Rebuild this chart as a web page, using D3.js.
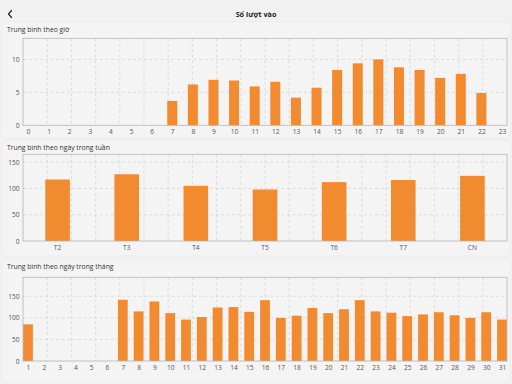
<!DOCTYPE html>
<html><head><meta charset="utf-8">
<script src="https://cdn.jsdelivr.net/npm/d3@7"></script>
<style>
html,body{margin:0;padding:0;background:#f1f1f1;}
svg{display:block;font-family:"Open Sans",sans-serif;}
</style></head>
<body>
<svg id="c" width="512" height="384"></svg>
<script>
const hourLabels = d3.range(0,24).map(String);
const hourValues = [0,0,0,0,0,0,0,3.7,6.2,6.9,6.8,5.9,6.6,4.2,5.7,8.4,9.4,10.0,8.8,8.4,7.2,7.8,4.9,0];
const weekLabels = ["T2","T3","T4","T5","T6","T7","CN"];
const weekValues = [117,127,105,98,112,116,124];
const monthLabels = d3.range(1,32).map(String);
const monthValues = [85,0,0,0,0,0,142,115,138,111,96,102,124,125,114,141,100,105,123,111,120,141,115,112,104,108,113,106,100,113,96];
const hourTicks = [0,5,10];
const weekTicks = [0,50,100,150];
const monthTicks = [0,50,100,150];

const svg = d3.select("#c");
const barColor = "#f28a30";
const textColor = "#555";

// cards
[[2,22,508,116],[2,140,508,116],[2,259,508,123]].forEach(r=>{
  svg.append("rect").attr("x",r[0]).attr("y",r[1]).attr("width",r[2]).attr("height",r[3])
    .attr("rx",4).attr("fill","#f4f4f4").attr("stroke","#e9e9e9").attr("stroke-width",0.6);
});

// header
svg.append("text").attr("x",256).attr("y",17).attr("text-anchor","middle")
  .attr("font-size",7.2).attr("font-weight","bold").attr("fill","#222").text("Số lượt vào");
svg.append("path").attr("d","M11.5,10.5 L8.5,14 L11.5,17.5").attr("fill","none")
  .attr("stroke","#222").attr("stroke-width",1.2).attr("stroke-linecap","round").attr("stroke-linejoin","round");

function chart(cfg){
  const {title,titleY,top,bottom,left,right,labels,values,ymax,ticks,scaleType,barW} = cfg;
  const g = svg.append("g");
  g.append("text").attr("x",7).attr("y",titleY).attr("font-size",6.8).attr("fill","#333").text(title);
  const y = d3.scaleLinear().domain([0,ymax]).range([bottom,top]);
  let x;
  if(scaleType==="band"){
    x = d3.scaleBand().domain(labels).range([left,right]);
  } else {
    x = d3.scalePoint().domain(labels).range([left+5,right-5]);
  }
  const off = scaleType==="band" ? x.bandwidth()/2 : 0;
  // vertical grid: 20 equal intervals
  const gx = d3.scaleLinear().domain([0,20]).range([left,right]);
  g.append("g").selectAll("line").data(d3.range(1,20)).join("line")
    .attr("x1",d=>gx(d)).attr("x2",d=>gx(d)).attr("y1",top).attr("y2",bottom)
    .attr("stroke","#d3d3d3").attr("stroke-width",0.7).attr("stroke-dasharray","3,2.5");
  // horizontal grid
  g.append("g").selectAll("line").data(ticks.filter(t=>t>0)).join("line")
    .attr("x1",left).attr("x2",right).attr("y1",d=>y(d)).attr("y2",d=>y(d))
    .attr("stroke","#d3d3d3").attr("stroke-width",0.7).attr("stroke-dasharray","3,2.5");
  // bars
  const data = values.map((v,i)=>({k:labels[i],v})).filter(d=>d.v>0);
  g.append("g").selectAll("rect").data(data).join("rect")
    .attr("x",d=>x(d.k)+off-barW/2).attr("width",barW)
    .attr("y",d=>y(d.v)).attr("height",d=>y(0)-y(d.v)).attr("fill",barColor);
  // border
  g.append("rect").attr("x",left).attr("y",top).attr("width",right-left).attr("height",bottom-top)
    .attr("fill","none").attr("stroke","#b5b5b5").attr("stroke-width",0.8);
  // y axis labels
  const ya = d3.axisLeft(y).tickValues(ticks).tickSize(0).tickPadding(3.5);
  const yg = g.append("g").attr("transform",`translate(${left},0)`).call(ya);
  yg.select(".domain").remove();
  yg.selectAll("text").attr("font-size",6.6).attr("fill",textColor).attr("font-family","Open Sans");
  // x axis labels
  const xa = d3.axisBottom(x).tickSize(0).tickPadding(4);
  const xg = g.append("g").attr("transform",`translate(0,${bottom})`).call(xa);
  xg.select(".domain").remove();
  xg.selectAll("text").attr("font-size",6.6).attr("fill",textColor).attr("font-family","Open Sans");
}

chart({title:"Trung bình theo giờ",titleY:32,top:38.3,bottom:125.3,left:23,right:507,
  labels:hourLabels,values:hourValues,ymax:13.2,ticks:hourTicks,scaleType:"point",barW:10});
chart({title:"Trung bình theo ngày trong tuần",titleY:150,top:154.3,bottom:241,left:23,right:507,
  labels:weekLabels,values:weekValues,ymax:165,ticks:weekTicks,scaleType:"band",barW:24.6});
chart({title:"Trung bình theo ngày trong tháng",titleY:269,top:277.3,bottom:361,left:23,right:507,
  labels:monthLabels,values:monthValues,ymax:194,ticks:monthTicks,scaleType:"point",barW:9.8});
</script>
</body></html>
